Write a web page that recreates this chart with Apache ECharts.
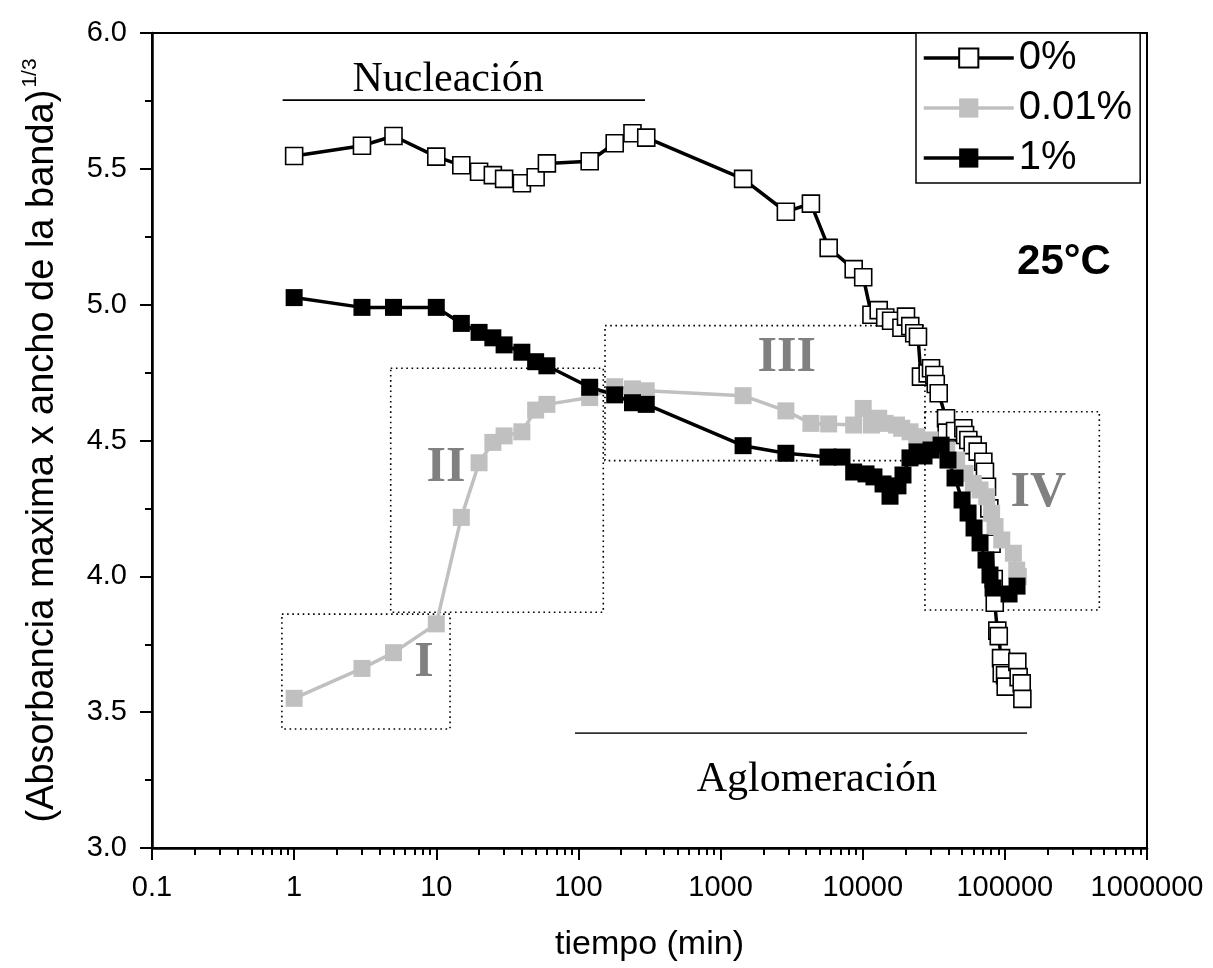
<!DOCTYPE html>
<html><head><meta charset="utf-8">
<script src="https://cdn.jsdelivr.net/npm/echarts@6/dist/echarts.min.js"></script>
<style>html,body{margin:0;padding:0;background:#fff}#c{width:1213px;height:968px}</style>
</head><body><div id="c"></div>
<script>
// ---------- data ----------
const seriesNames = ['0%', '0.01%', '1%'];

// 0 %
const t0 = [1,3,5,10,15,20,25,30,40,50,60,120,180,240,300,1440,2880,4320,5760,8640,10080,
  11520,12960,14400,15840,18720,20160,21600,23040,24480,25700,28640,30240,31920,32650,34250,38550,
  39000,44640,51050,52480,55350,59430,64430,70580,72450,74880,77760,80640,83520,
  84900,88500,90600,94000,95100,100300,101400,122400,125000,131400,132800];
const v0 = [5.547,5.585,5.621,5.545,5.513,5.489,5.477,5.463,5.447,5.469,5.520,5.528,5.594,5.631,5.615,5.463,5.342,5.372,5.209,5.131,5.101,
  4.963,4.980,4.953,4.941,4.915,4.956,4.921,4.895,4.882,4.735,4.747,4.766,4.741,4.708,4.674,4.582,
  4.529,4.535,4.545,4.520,4.502,4.483,4.459,4.422,4.385,4.330,4.250,4.120,3.990,
  3.903,3.800,3.780,3.699,3.643,3.636,3.594,3.685,3.629,3.606,3.549];

// 0.01 %
const t1 = [1,3,5,10,15,20,25,30,40,50,60,120,180,240,300,1440,2880,4320,5760,8640,10080,
  11520,12960,14400,17280,18810,21530,23990,29760,38990,45800,52480,60000,66900,74500,80700,85300,95100,114800,121200,124400];
const v1 = [3.551,3.661,3.719,3.825,4.217,4.418,4.493,4.517,4.532,4.612,4.633,4.658,4.698,4.690,4.683,4.665,4.609,4.563,4.561,4.557,4.618,
  4.557,4.582,4.563,4.557,4.545,4.532,4.514,4.502,4.465,4.428,4.379,4.342,4.318,4.293,4.232,4.183,4.134,4.085,4.023,3.999];

// 1 %
const t2 = [1,3,5,10,15,20,25,30,40,50,60,120,180,240,300,1440,2880,5700,7150,8640,10550,12000,13900,15560,17700,19200,
  21500,24100,27000,30240,35600,39800,44600,50000,55100,60700,66900,73700,78600,82600,107000,121800];
const v2 = [5.026,4.990,4.990,4.990,4.931,4.898,4.878,4.852,4.825,4.790,4.775,4.696,4.668,4.639,4.633,4.481,4.453,4.439,4.439,4.384,4.377,4.366,4.340,4.295,4.333,4.373,
  4.436,4.458,4.443,4.465,4.483,4.428,4.362,4.281,4.233,4.178,4.123,4.060,4.005,3.957,3.935,3.964];

const xTickLabels = ['0.1','1','10','100','1000','10000','100000','1000000'];
const yTickLabels = ['3.0','3.5','4.0','4.5','5.0','5.5','6.0'];
const xMinorTicks = [];
for (let e = -1; e < 6; e++) for (let d = 2; d <= 9; d++) xMinorTicks.push(+(d * Math.pow(10, e)).toPrecision(3));

// annotation texts and regions (data coordinates)
const regionNames = ['I', 'II', 'III', 'IV'];
const regionBoxes = [[0.82, 12.5, 3.438, 3.861], [4.78, 149.6, 3.868, 4.766], [153.8, 27400, 4.426, 4.923], [27400, 462000, 3.876, 4.606]];
const regionLabelPos = [[8.2, 3.681], [11.7, 4.399], [2917, 4.803], [171800, 4.306]];
const phaseNames = ['Nucleación', 'Aglomeración'];
const phaseLines = [[0.83, 294, 5.753], [94.6, 143200, 3.423]];
const phaseLabelPos = [[12.1, 5.827], [4760, 3.250]];
const tempLabel = '25°C';
const tempLabelPos = [260600, 5.157];

const zip = (a, b) => a.map((x, i) => [x, b[i]]);

// ---------- chart ----------
const chart = echarts.init(document.getElementById('c'), null, {renderer: 'canvas'});
const SANS = 'Liberation Sans, Arial, sans-serif';
const SERIF = 'Liberation Serif, Times New Roman, serif';

const option = {
  animation: false,
  backgroundColor: '#fff',
  grid: {left: 152, right: 66, top: 33, bottom: 120, show: true, borderColor: '#000', borderWidth: 2, backgroundColor: 'transparent'},
  legend: {
    orient: 'vertical', left: 916, top: 33,
    padding: [3, 8, 3, 6], itemGap: 6, itemWidth: 90, itemHeight: 24,
    borderColor: '#000', borderWidth: 1.5, backgroundColor: '#fff',
    lineStyle: {width: 3.5},
    textStyle: {fontSize: 40, fontFamily: SANS, color: '#000', lineHeight: 44},
    data: seriesNames
  },
  xAxis: [{
    type: 'log', logBase: 10, min: 0.1, max: 1000000, position: 'bottom',
    name: 'tiempo (min)', nameLocation: 'middle', nameGap: 80,
    nameTextStyle: {fontSize: 34, fontFamily: SANS, color: '#000'},
    axisLine: {show: true, lineStyle: {color: '#000', width: 2.5}},
    axisTick: {show: true, inside: false, length: 12, lineStyle: {color: '#000', width: 2}},
    minorTick: {show: false},
    axisLabel: {margin: 25, fontSize: 29, fontFamily: SANS, color: '#000',
      formatter: v => xTickLabels[Math.round(Math.log10(v)) + 1]},
    splitLine: {show: false}
  }, {
    type: 'log', logBase: 10, min: 0.1, max: 1000000, position: 'bottom', gridIndex: 0,
    axisLine: {show: false},
    axisTick: {show: true, inside: false, length: 7, customValues: xMinorTicks, lineStyle: {color: '#000', width: 2}},
    axisLabel: {show: false},
    splitLine: {show: false}
  }],
  yAxis: {
    type: 'value', min: 3, max: 6, interval: 0.5,
    name: '{a|(Absorbancia maxima x ancho de la banda)}{s|1/3}',
    nameLocation: 'middle', nameGap: 86,
    nameTextStyle: {rich: {
      a: {fontSize: 38, fontFamily: SANS, color: '#000', lineHeight: 46},
      s: {fontSize: 21, fontFamily: SANS, color: '#000', lineHeight: 46, verticalAlign: 'top', padding: [0, 0, 24, 2]}
    }},
    axisLine: {show: true, lineStyle: {color: '#000', width: 2.5}},
    axisTick: {show: true, inside: false, length: 12, lineStyle: {color: '#000', width: 2}},
    minorTick: {show: true, splitNumber: 2, length: 7, lineStyle: {color: '#000', width: 2}},
    axisLabel: {margin: 25, fontSize: 29, fontFamily: SANS, color: '#000',
      formatter: v => yTickLabels[Math.round((v - 3) / 0.5)]},
    splitLine: {show: false}
  },
  series: [{
    name: seriesNames[0], type: 'line', data: zip(t0, v0),
    symbol: 'rect', symbolSize: 17,
    itemStyle: {color: '#fff', borderColor: '#000', borderWidth: 1.6},
    lineStyle: {color: '#000', width: 3.5},
    emphasis: {disabled: true}
  }, {
    name: seriesNames[1], type: 'line', data: zip(t1, v1),
    symbol: 'rect', symbolSize: 17,
    itemStyle: {color: '#c0c0c0', borderColor: '#c0c0c0', borderWidth: 0},
    lineStyle: {color: '#c0c0c0', width: 3.5},
    emphasis: {disabled: true}
  }, {
    name: seriesNames[2], type: 'line', data: zip(t2, v2),
    symbol: 'rect', symbolSize: 17,
    itemStyle: {color: '#000', borderColor: '#000', borderWidth: 0},
    lineStyle: {color: '#000', width: 3.5},
    emphasis: {disabled: true}
  }]
};
chart.setOption(option);

function drawAnnotations() {
  const P = p => chart.convertToPixel({seriesIndex: 0}, p);
  const g = [];
  regionBoxes.forEach(b => {
    const a = P([b[0], b[3]]), c = P([b[1], b[2]]);
    g.push({type: 'rect', z: 0, silent: true,
      shape: {x: a[0], y: a[1], width: c[0] - a[0], height: c[1] - a[1]},
      style: {fill: null, stroke: '#000', lineWidth: 1.6, lineDash: [1.6, 3.6]}});
  });
  regionNames.forEach((n, i) => {
    const p = P(regionLabelPos[i]);
    g.push({type: 'text', z: 0, silent: true, x: p[0], y: p[1],
      style: {text: n, fill: '#808080', font: 'bold 50px ' + SERIF, align: 'center', verticalAlign: 'middle'}});
  });
  phaseLines.forEach((l, i) => {
    const a = P([l[0], l[2]]), c = P([l[1], l[2]]);
    g.push({type: 'line', z: 0, silent: true, shape: {x1: a[0], y1: a[1], x2: c[0], y2: c[1]},
      style: {stroke: i === 0 ? '#000' : '#333', lineWidth: 1.6}});
    const p = P(phaseLabelPos[i]);
    g.push({type: 'text', z: 0, silent: true, x: p[0], y: p[1],
      style: {text: phaseNames[i], fill: '#000', font: '42px ' + SERIF, align: 'center', verticalAlign: 'middle'}});
  });
  const tp = P(tempLabelPos);
  g.push({type: 'text', z: 0, silent: true, x: tp[0], y: tp[1],
    style: {text: tempLabel, fill: '#000', font: 'bold 42px ' + SANS, align: 'center', verticalAlign: 'middle'}});
  chart.setOption({graphic: g});
}
drawAnnotations();
</script>
</body></html>
